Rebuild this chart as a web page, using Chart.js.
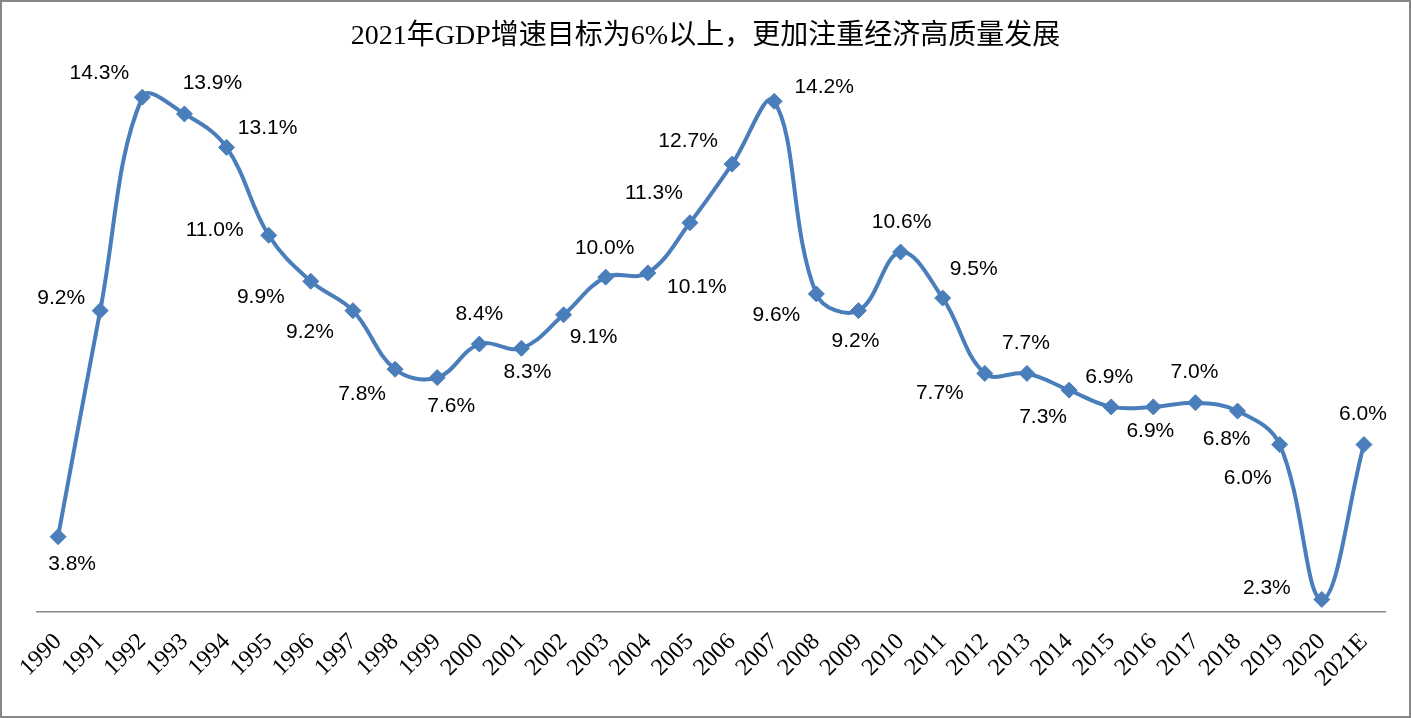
<!DOCTYPE html>
<html>
<head>
<meta charset="utf-8">
<script src="https://cdn.jsdelivr.net/npm/chart.js@4.4.1/dist/chart.umd.min.js"></script>
<style>
  html, body { margin: 0; padding: 0; background: #fff; }
  .chart-box {
    width: 1411px;
    height: 718px;
    box-sizing: border-box;
    border: 2px solid #878787;
    position: relative;
    background: #fff;
  }
</style>
</head>
<body>
<div class="chart-box">
  <canvas id="gdpChart"></canvas>
</div>
<script>
// categories
const years = [
  "1990", "1991", "1992", "1993", "1994", "1995", "1996", "1997",
  "1998", "1999", "2000", "2001", "2002", "2003", "2004", "2005",
  "2006", "2007", "2008", "2009", "2010", "2011", "2012", "2013",
  "2014", "2015", "2016", "2017", "2018", "2019", "2020", "2021E"
];

// GDP growth, %
const gdpGrowth = [
  3.8, 9.2, 14.3, 13.9, 13.1, 11.0, 9.9, 9.2,
  7.8, 7.6, 8.4, 8.3, 9.1, 10.0, 10.1, 11.3,
  12.7, 14.2, 9.6, 9.2, 10.6, 9.5, 7.7, 7.7,
  7.3, 6.9, 6.9, 7.0, 6.8, 6.0, 2.3, 6.0
];

const chartTitle = "2021年GDP增速目标为6%以上，更加注重经济高质量发展";

// where each value label sits relative to its point (px)
const labelOffsets = [
  [14, 28], [-39, -12], [-43, -24], [28, -31], [41, -19], [-54, -5], [-50, 16], [-43, 22],
  [-33, 25], [14, 29], [0, -30], [6, 24], [30, 22], [-1, -29], [49, 14], [-36, -30],
  [-44, -23], [50, -14], [-40, 21], [-3, 31], [1, -30], [31, -29], [-45, 20], [-1, -30],
  [-26, 27], [-2, -30], [-3, 24], [-1, -31], [-11, 28], [-32, 34], [-55, -11], [-1, -30]
];

const lineColor = "#4A7EBB";

const valueLabels = {
  id: "valueLabels",
  afterDatasetsDraw(chart) {
    const { ctx } = chart;
    const meta = chart.getDatasetMeta(0);
    ctx.save();
    ctx.font = '21px "Liberation Sans", Arial, sans-serif';
    ctx.fillStyle = "#000";
    ctx.textAlign = "center";
    ctx.textBaseline = "middle";
    meta.data.forEach((pt, i) => {
      const [dx, dy] = labelOffsets[i];
      ctx.fillText(gdpGrowth[i].toFixed(1) + "%", pt.x + dx, pt.y + dy);
    });
    ctx.restore();
  }
};

const titleText = {
  id: "titleText",
  afterDraw(chart) {
    const { ctx } = chart;
    ctx.save();
    ctx.font = '28px "Liberation Serif", "Noto Sans CJK SC", serif';
    ctx.fillStyle = "#000";
    ctx.textAlign = "center";
    ctx.textBaseline = "middle";
    ctx.fillText(chartTitle, chart.width / 2, 35);
    ctx.restore();
  }
};

const ctx = document.getElementById("gdpChart").getContext("2d");
new Chart(ctx, {
  type: "line",
  data: {
    labels: years,
    datasets: [{
      data: gdpGrowth,
      borderColor: lineColor,
      backgroundColor: lineColor,
      borderWidth: 4,
      tension: 0.38,
      pointStyle: "rectRot",
      pointRadius: 8,
      pointBackgroundColor: lineColor,
      pointBorderColor: lineColor,
      pointBorderWidth: 1,
      fill: false
    }]
  },
  options: {
    responsive: true,
    maintainAspectRatio: false,
    animation: false,
    layout: {
      padding: { left: 35, right: 24, top: 24, bottom: 0 }
    },
    plugins: {
      legend: { display: false },
      title: { display: false },
      tooltip: { enabled: false }
    },
    scales: {
      x: {
        offset: true,
        grid: { display: false, drawTicks: false },
        border: { display: true, color: "#878787", width: 1.5 },
        ticks: {
          color: "#000",
          font: { family: '"Liberation Serif", "Times New Roman", serif', size: 24 },
          minRotation: 45,
          maxRotation: 45,
          autoSkip: false,
          padding: 16
        },
        afterFit(scale) {
          scale.height = 104;
        }
      },
      y: {
        display: false,
        min: 2,
        max: 16
      }
    }
  },
  plugins: [valueLabels, titleText]
});
</script>
</body>
</html>
